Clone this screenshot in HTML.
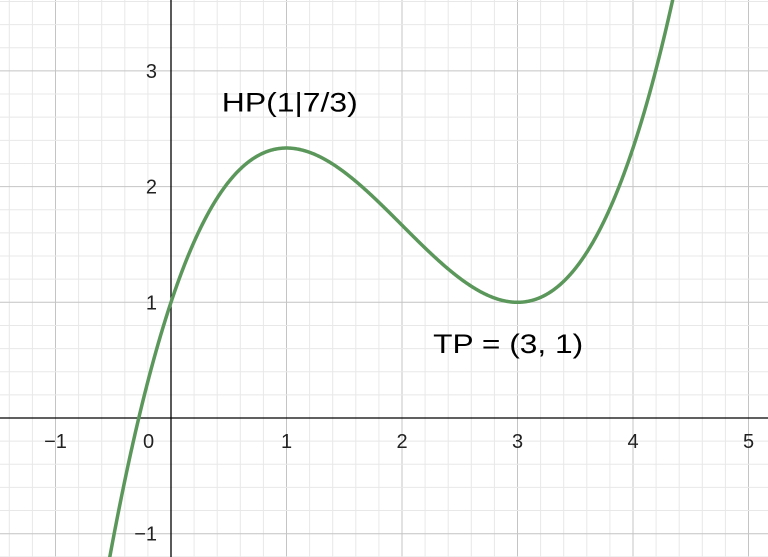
<!DOCTYPE html>
<html><head><meta charset="utf-8"><style>
html,body{margin:0;padding:0;background:#fff;overflow:hidden;width:768px;height:557px;}
svg{display:block;font-family:"Liberation Sans",sans-serif;overflow:hidden;}
</style></head><body>
<svg id="chart" width="768" height="557"></svg>
<script>
const coeffs=[1/3,-2,3,1]; // a x^3 + b x^2 + c x + d
const xTicks=[-1,0,1,2,3,4,5];
const yTicks=[-1,1,2,3];
const xTickLabels=["\u22121","0","1","2","3","4","5"];
const yTickLabels=["\u22121","1","2","3"];
const annotations=[{text:"HP(1|7/3)",x:0.44,y:2.65,w:136},{text:"TP = (3, 1)",x:2.27,y:0.56,w:150}];
const W=768,H=557,ox=171,oy=418,sx=115.5,sy=115.7;
const X=v=>ox+v*sx, Y=v=>oy-v*sy;
const NS="http://www.w3.org/2000/svg";
const svg=document.getElementById('chart');
function mk(t,a){const e=document.createElementNS(NS,t);for(const k in a)e.setAttribute(k,a[k]);svg.appendChild(e);return e;}
for(let i=-10;i<=30;i++){const v=i*0.2;const px=X(v);if(px<0||px>W)continue;const major=i%5===0;
 const l=mk('line',{x1:px,y1:0,x2:px,y2:H,stroke:major?'#c4c4c4':'#e8e8e8','stroke-width':1});
 
 }
for(let i=-10;i<=25;i++){const v=i*0.2;const py=Y(v);if(py<0||py>H)continue;const major=i%5===0;
 const l=mk('line',{x1:0,y1:py,x2:W,y2:py,stroke:major?'#c4c4c4':'#e8e8e8','stroke-width':1});
 
 }
const xa=mk('line',{x1:0,y1:oy,x2:W,y2:oy,stroke:'#000','stroke-width':1.3});


const ya=mk('line',{x1:ox,y1:0,x2:ox,y2:H,stroke:'#000','stroke-width':1.3});


xTicks.forEach((v,i)=>{const t=mk('text',{x:v===0?X(v)-28:X(v),y:oy+30,'font-size':20,'text-anchor':v===0?'start':'middle',fill:'#222'});
 t.textContent=xTickLabels[i];
 
 });
yTicks.forEach((v,i)=>{const t=mk('text',{x:ox-14,y:Y(v)+7,'font-size':20,'text-anchor':'end',fill:'#222'});
 t.textContent=yTickLabels[i];
 
 });
const f=x=>coeffs[0]*x*x*x+coeffs[1]*x*x+coeffs[2]*x+coeffs[3];
let d='';for(let x=-1.6;x<=5.2;x+=0.005){const py=Y(f(x));if(py<-4||py>H+4)continue;d+=(d?'L':'M')+X(x).toFixed(2)+','+py.toFixed(2);}
const p=mk('path',{d:d,fill:'none',stroke:'#5b975b','stroke-width':3.5});


annotations.forEach(a=>{const t=mk('text',{x:X(a.x),y:Y(a.y),'font-size':27,fill:'#000',textLength:a.w,lengthAdjust:'spacingAndGlyphs'});
 t.textContent=a.text;
 
 });
</script>
</body></html>
